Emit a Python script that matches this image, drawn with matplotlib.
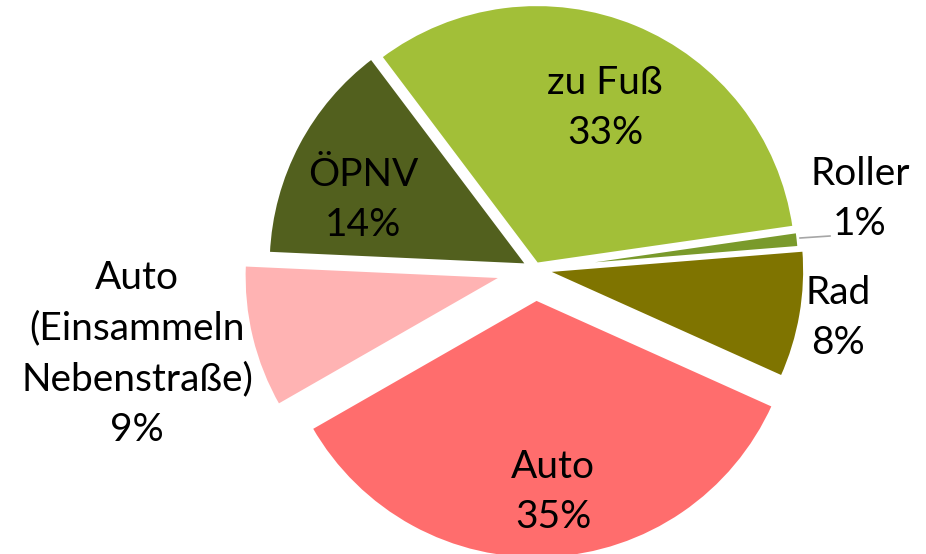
import matplotlib.pyplot as plt

labels = ["zu Fuß", "Roller", "Rad", "Auto", "Auto\n(Einsammeln\nNebenstraße)", "ÖPNV"]
shares = [33, 1, 8, 35, 9, 14]
colors = ["#A2BF38", "#7A9A2B", "#7F7400", "#FF6D6D", "#FFB3B3", "#52601E"]
# explode in data (pixel) units
explode = [5, 5, 10, 30, 32, 8]

W, H = 926, 554
cx, cy, r = 535, H - 269, 260

fig = plt.figure(figsize=(W / 100, H / 100), dpi=100)
ax = fig.add_axes([0, 0, 1, 1])

ax.pie(shares, colors=colors, explode=explode, startangle=127, counterclock=False,
       center=(cx, cy), radius=r, frame=True,
       wedgeprops=dict(edgecolor='white', linewidth=2.5))
ax.set_xlim(0, W)
ax.set_ylim(0, H)
ax.set_aspect('equal')
ax.axis('off')

font = dict(family='Lato', fontsize=28, ha='center', va='center',
            linespacing=1.5, color='black')
# label positions in pixel coords (x, y from top)
pos = [(605, 108), (860, 199), (838, 318), (553, 492), (137, 354), (363, 200)]
for lab, s, (x, y) in zip(labels, shares, pos):
    ax.text(x, H - y, f"{lab}\n{s}%", **font)

ax.plot([800, 830], [H - 238, H - 236], color='#A6A6A6', lw=1.2)

fig.savefig("out.png", dpi=100)
